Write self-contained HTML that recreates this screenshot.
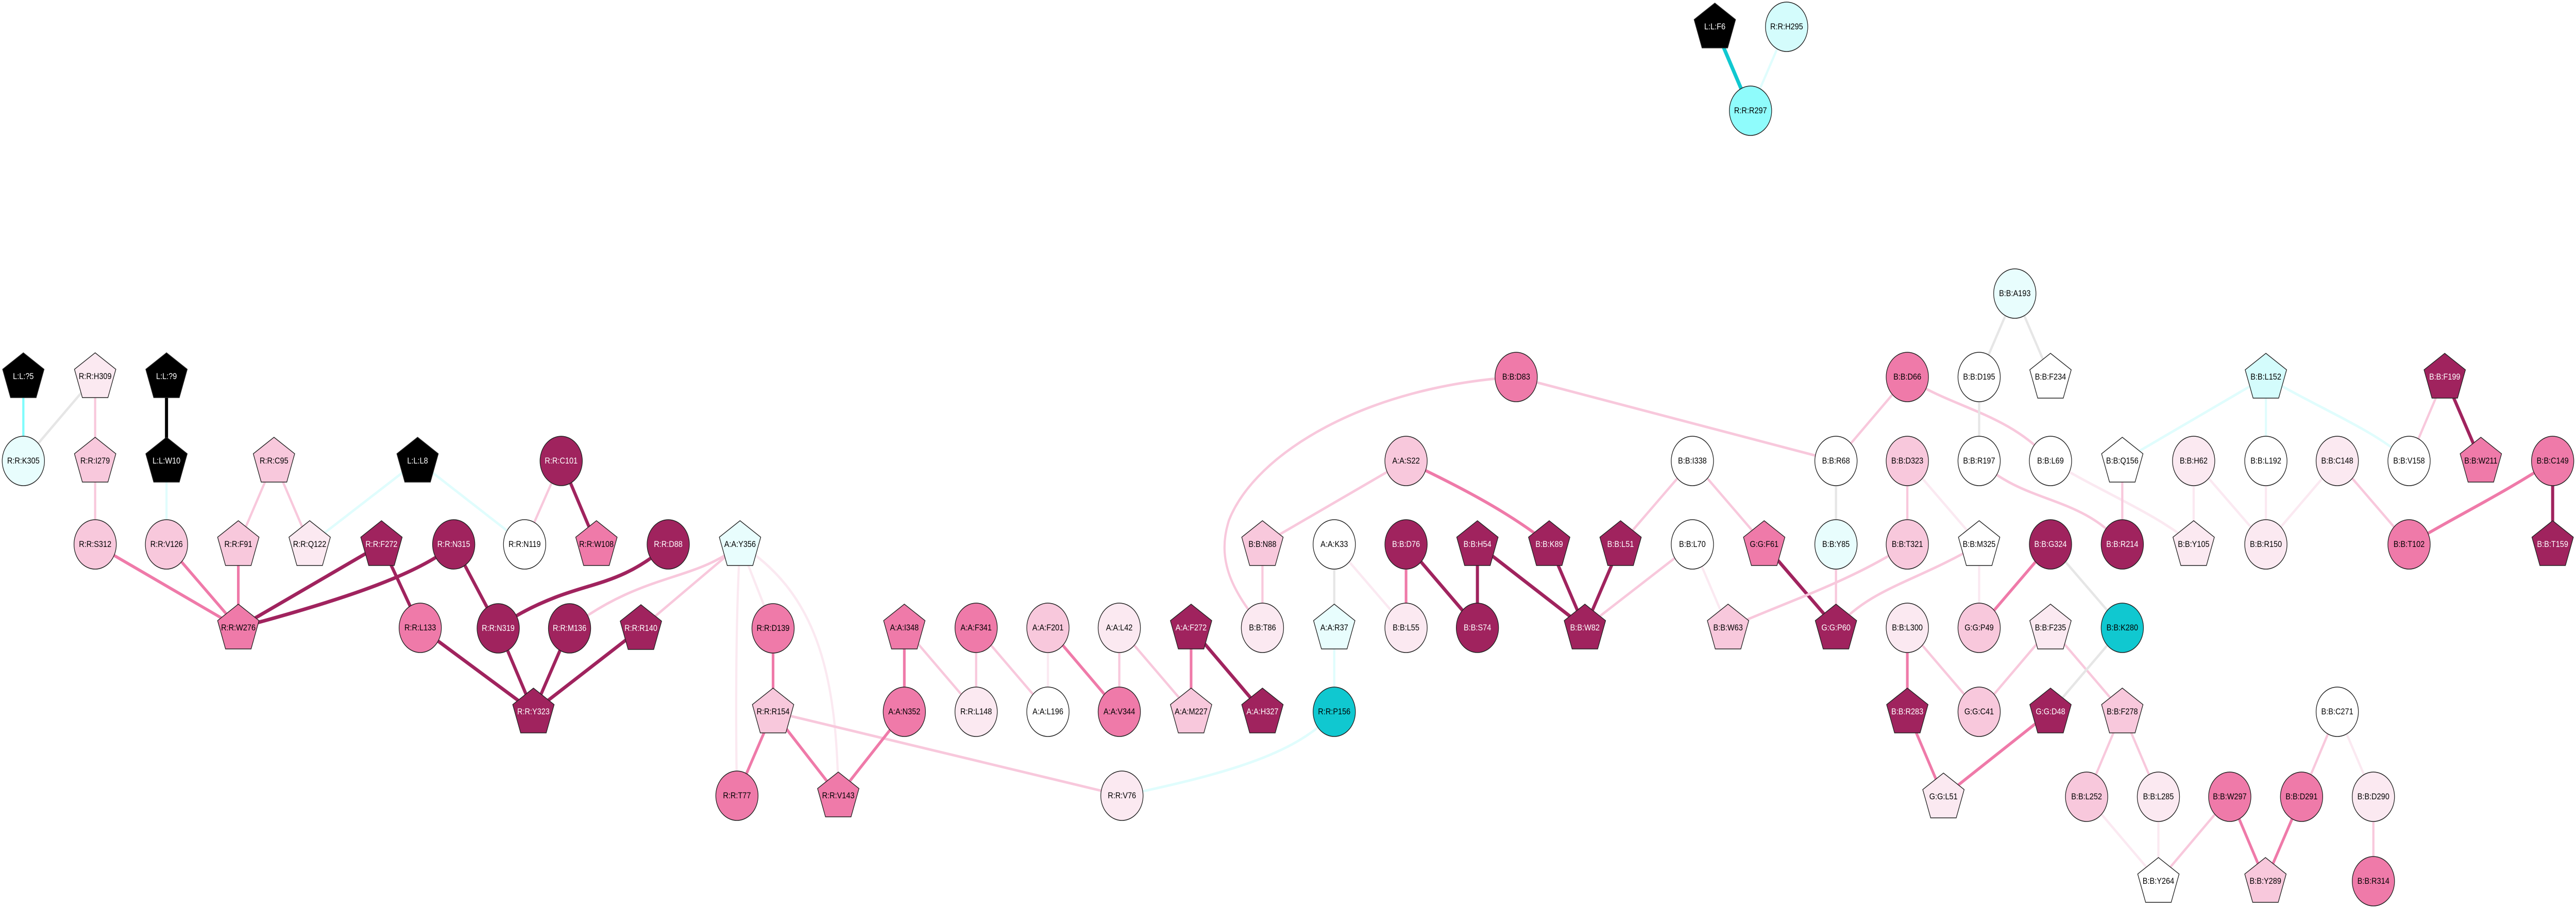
<!DOCTYPE html>
<html><head><meta charset="utf-8"><style>
html,body{margin:0;padding:0;background:#fff;width:100%;height:100%;overflow:hidden}
svg{display:block;width:100vw;height:100vh;position:absolute;left:0;top:0}
text{font-family:"Liberation Sans",Arial,sans-serif;font-size:17px;text-anchor:middle;dominant-baseline:central}
.c,.p{stroke:#222;stroke-width:1.5}
.e{fill:none;stroke-linecap:butt}
.dk{stroke:#a0235e;stroke-width:7}
.md{stroke:#ef7aa9;stroke-width:6}
.lp{stroke:#f8c8dc;stroke-width:5}
.vl{stroke:#fbe9f1;stroke-width:5}
.gr{stroke:#e6e6e6;stroke-width:5}
.cy{stroke:#e0fdfd;stroke-width:5}
</style></head><body>
<svg viewBox="0 0 5848 1763" preserveAspectRatio="none" xmlns="http://www.w3.org/2000/svg">
<defs><polygon id="pg" points="0,-46 47,-14 29,41 -29,41 -47,-14"/></defs>
<g class="e">
<line x1="3893" y1="52" x2="3974" y2="215" stroke="#10c8d0" stroke-width="8"/>
<line class="cy" x1="4056" y1="52" x2="3974" y2="215" stroke="#d4fcfc"/>
<line x1="53" y1="731" x2="53" y2="895" stroke="#7ffcfc" stroke-width="5"/>
<line class="gr" x1="216" y1="731" x2="53" y2="895"/>
<line class="lp" x1="216" y1="731" x2="216" y2="895"/>
<line x1="378" y1="731" x2="378" y2="895" stroke="#000" stroke-width="7"/>
<line class="lp" x1="216" y1="895" x2="216" y2="1057"/>
<line class="cy" x1="378" y1="895" x2="378" y2="1057"/>
<line class="lp" x1="622" y1="895" x2="541" y2="1057"/>
<line class="lp" x1="622" y1="895" x2="703" y2="1057"/>
<line class="cy" x1="948" y1="895" x2="703" y2="1057"/>
<line class="cy" x1="948" y1="895" x2="1191" y2="1057"/>
<line class="md" x1="216" y1="1057" x2="541" y2="1219"/>
<line class="md" x1="378" y1="1057" x2="541" y2="1219"/>
<line class="md" x1="541" y1="1057" x2="541" y2="1219"/>
<line class="dk" x1="866" y1="1057" x2="541" y2="1219"/>
<path class="dk" d="M1030,1057 C960,1110 800,1160 541,1219"/>
<line class="dk" x1="866" y1="1057" x2="954" y2="1219"/>
<line class="dk" x1="954" y1="1219" x2="1211" y2="1382"/>
<line class="lp" x1="1274" y1="895" x2="1191" y2="1057"/>
<line class="dk" x1="1274" y1="895" x2="1354" y2="1057"/>
<line class="dk" x1="1030" y1="1057" x2="1131" y2="1220"/>
<path class="dk" d="M1517,1057 C1420,1130 1350,1130 1260,1160 C1200,1180 1160,1200 1131,1220"/>
<path class="lp" d="M1680,1057 C1580,1130 1460,1110 1293,1220"/>
<line class="lp" x1="1680" y1="1057" x2="1455" y2="1220"/>
<path class="vl" d="M1680,1057 C1670,1200 1670,1400 1673,1545"/>
<line class="vl" x1="1680" y1="1057" x2="1755" y2="1220"/>
<path class="vl" d="M1680,1057 C1850,1150 1900,1300 1903,1545"/>
<line class="dk" x1="1131" y1="1220" x2="1211" y2="1382"/>
<line class="dk" x1="1293" y1="1220" x2="1211" y2="1382"/>
<line class="dk" x1="1455" y1="1220" x2="1211" y2="1382"/>
<line class="md" x1="1755" y1="1220" x2="1755" y2="1382"/>
<line class="md" x1="1755" y1="1382" x2="1673" y2="1545"/>
<line class="md" x1="1755" y1="1382" x2="1903" y2="1545"/>
<line class="lp" x1="1755" y1="1382" x2="2547" y2="1545"/>
<line class="md" x1="1903" y1="1545" x2="2053" y2="1382"/>
<line class="md" x1="2053" y1="1219" x2="2053" y2="1382"/>
<line class="lp" x1="2053" y1="1219" x2="2216" y2="1382"/>
<line class="lp" x1="2216" y1="1219" x2="2216" y2="1382"/>
<line class="lp" x1="2216" y1="1219" x2="2379" y2="1382"/>
<line class="vl" x1="2379" y1="1219" x2="2379" y2="1382"/>
<line class="md" x1="2379" y1="1219" x2="2541" y2="1382"/>
<line class="lp" x1="2541" y1="1219" x2="2541" y2="1382"/>
<line class="lp" x1="2541" y1="1219" x2="2704" y2="1382"/>
<line class="md" x1="2704" y1="1219" x2="2704" y2="1382"/>
<line class="dk" x1="2704" y1="1219" x2="2866" y2="1382"/>
<line class="lp" x1="2866" y1="1057" x2="2866" y2="1219"/>
<path class="lp" d="M3442,732 C3100,750 2850,880 2790,1010 C2760,1090 2800,1150 2866,1219"/>
<line class="lp" x1="3442" y1="732" x2="4168" y2="895"/>
<line class="lp" x1="3192" y1="895" x2="2866" y2="1057"/>
<path class="md" d="M3192,895 C3300,940 3420,990 3517,1057"/>
<path class="cy" d="M2547,1545 C2800,1500 2950,1460 3029,1382"/>
<line class="gr" x1="3029" y1="1057" x2="3029" y2="1219"/>
<line class="vl" x1="3029" y1="1057" x2="3192" y2="1219"/>
<line class="cy" x1="3029" y1="1219" x2="3029" y2="1382" stroke="#d4fcfc"/>
<line class="md" x1="3192" y1="1057" x2="3192" y2="1219"/>
<line class="dk" x1="3192" y1="1057" x2="3354" y2="1219"/>
<line class="dk" x1="3354" y1="1057" x2="3354" y2="1219"/>
<line class="dk" x1="3354" y1="1057" x2="3598" y2="1219"/>
<line class="dk" x1="3517" y1="1057" x2="3598" y2="1219"/>
<line class="dk" x1="3679" y1="1057" x2="3598" y2="1219"/>
<line class="lp" x1="3842" y1="1057" x2="3598" y2="1219"/>
<line class="lp" x1="3842" y1="895" x2="3679" y2="1057"/>
<line class="lp" x1="3842" y1="895" x2="4005" y2="1057"/>
<line class="vl" x1="3842" y1="1057" x2="3923" y2="1219"/>
<line class="gr" x1="4574" y1="570" x2="4493" y2="732"/>
<line class="gr" x1="4574" y1="570" x2="4655" y2="732"/>
<line class="lp" x1="4330" y1="732" x2="4168" y2="895"/>
<path class="lp" d="M4330,732 C4420,790 4560,800 4655,895"/>
<line class="gr" x1="4493" y1="732" x2="4493" y2="895"/>
<line class="gr" x1="4168" y1="895" x2="4168" y2="1057"/>
<line class="lp" x1="4330" y1="895" x2="4330" y2="1057"/>
<line class="vl" x1="4330" y1="895" x2="4493" y2="1057"/>
<path class="lp" d="M4493,895 C4600,980 4720,960 4818,1057"/>
<path class="vl" d="M4655,895 C4780,960 4880,990 4980,1057"/>
<line class="lp" x1="4818" y1="895" x2="4818" y2="1057"/>
<line class="vl" x1="4980" y1="895" x2="4980" y2="1057"/>
<line class="dk" x1="4005" y1="1057" x2="4168" y2="1219"/>
<line class="lp" x1="4168" y1="1057" x2="4168" y2="1219"/>
<path class="lp" d="M4330,1057 C4200,1130 4050,1170 3923,1219"/>
<path class="lp" d="M4493,1057 C4350,1130 4250,1140 4168,1219"/>
<line class="vl" x1="4493" y1="1057" x2="4493" y2="1219"/>
<line class="md" x1="4655" y1="1057" x2="4493" y2="1219"/>
<line class="gr" x1="4655" y1="1057" x2="4818" y2="1219"/>
<line class="md" x1="4330" y1="1219" x2="4330" y2="1382"/>
<line class="lp" x1="4330" y1="1219" x2="4493" y2="1382"/>
<line class="lp" x1="4655" y1="1219" x2="4493" y2="1382"/>
<line class="lp" x1="4655" y1="1219" x2="4818" y2="1382"/>
<line class="gr" x1="4818" y1="1219" x2="4655" y2="1382"/>
<line class="md" x1="4330" y1="1382" x2="4412" y2="1547"/>
<line class="md" x1="4655" y1="1382" x2="4412" y2="1547" stroke-width="7"/>
<line class="lp" x1="4818" y1="1382" x2="4737" y2="1547"/>
<line class="lp" x1="4818" y1="1382" x2="4900" y2="1547"/>
<line class="lp" x1="5306" y1="1382" x2="5225" y2="1547"/>
<line class="vl" x1="5306" y1="1382" x2="5388" y2="1547"/>
<line class="vl" x1="4737" y1="1547" x2="4900" y2="1711"/>
<line class="vl" x1="4900" y1="1547" x2="4900" y2="1711"/>
<line class="lp" x1="5062" y1="1547" x2="4900" y2="1711"/>
<line class="md" x1="5062" y1="1547" x2="5143" y2="1711"/>
<line class="md" x1="5225" y1="1547" x2="5143" y2="1711"/>
<line class="lp" x1="5388" y1="1547" x2="5388" y2="1711"/>
<line class="cy" x1="5144" y1="732" x2="4818" y2="895"/>
<line class="cy" x1="5144" y1="732" x2="5144" y2="895" stroke="#d4fcfc"/>
<path class="cy" d="M5144,732 C5280,800 5380,830 5469,895"/>
<line class="lp" x1="5550" y1="732" x2="5469" y2="895"/>
<line class="dk" x1="5550" y1="732" x2="5632" y2="895"/>
<line class="vl" x1="4980" y1="895" x2="5144" y2="1057"/>
<line class="vl" x1="5144" y1="895" x2="5144" y2="1057"/>
<line class="vl" x1="5306" y1="895" x2="5144" y2="1057"/>
<line class="lp" x1="5306" y1="895" x2="5469" y2="1057"/>
<path class="md" d="M5795,895 C5680,960 5580,1000 5469,1057"/>
<line class="dk" x1="5795" y1="895" x2="5795" y2="1057"/>
</g>
<g>
<g transform="translate(3893,52)"><use href="#pg" fill="#000" class="p"/><text fill="#fff">L:L:F6</text></g>
<g transform="translate(4056,52)"><circle r="48" fill="#d4fcfc" class="c"/><text>R:R:H295</text></g>
<g transform="translate(3974,215)"><circle r="48" fill="#8ffcfc" class="c"/><text>R:R:R297</text></g>
<g transform="translate(53,731)"><use href="#pg" fill="#000" class="p"/><text fill="#fff">L:L:?5</text></g>
<g transform="translate(216,731)"><use href="#pg" fill="#fbe9f1" class="p"/><text>R:R:H309</text></g>
<g transform="translate(378,731)"><use href="#pg" fill="#000" class="p"/><text fill="#fff">L:L:?9</text></g>
<g transform="translate(53,895)"><circle r="48" fill="#e8fdfd" class="c"/><text>R:R:K305</text></g>
<g transform="translate(216,895)"><use href="#pg" fill="#f8c8dc" class="p"/><text>R:R:I279</text></g>
<g transform="translate(378,895)"><use href="#pg" fill="#000" class="p"/><text fill="#fff">L:L:W10</text></g>
<g transform="translate(622,895)"><use href="#pg" fill="#f8c8dc" class="p"/><text>R:R:C95</text></g>
<g transform="translate(948,895)"><use href="#pg" fill="#000" class="p"/><text fill="#fff">L:L:L8</text></g>
<g transform="translate(1274,895)"><circle r="48" fill="#a0235e" class="c"/><text fill="#fff">R:R:C101</text></g>
<g transform="translate(216,1057)"><circle r="48" fill="#f8c8dc" class="c"/><text>R:R:S312</text></g>
<g transform="translate(378,1057)"><circle r="48" fill="#f8c8dc" class="c"/><text>R:R:V126</text></g>
<g transform="translate(541,1057)"><use href="#pg" fill="#f8c8dc" class="p"/><text>R:R:F91</text></g>
<g transform="translate(703,1057)"><use href="#pg" fill="#fbe9f1" class="p"/><text>R:R:Q122</text></g>
<g transform="translate(866,1057)"><use href="#pg" fill="#a0235e" class="p"/><text fill="#fff">R:R:F272</text></g>
<g transform="translate(1030,1057)"><circle r="48" fill="#a0235e" class="c"/><text fill="#fff">R:R:N315</text></g>
<g transform="translate(1191,1057)"><circle r="48" fill="#fff" class="c"/><text>R:R:N119</text></g>
<g transform="translate(1354,1057)"><use href="#pg" fill="#ef7aa9" class="p"/><text>R:R:W108</text></g>
<g transform="translate(1517,1057)"><circle r="48" fill="#a0235e" class="c"/><text fill="#fff">R:R:D88</text></g>
<g transform="translate(1680,1057)"><use href="#pg" fill="#e8fdfd" class="p"/><text>A:A:Y356</text></g>
<g transform="translate(541,1219)"><use href="#pg" fill="#ef7aa9" class="p"/><text>R:R:W276</text></g>
<g transform="translate(954,1219)"><circle r="48" fill="#ef7aa9" class="c"/><text>R:R:L133</text></g>
<g transform="translate(1131,1220)"><circle r="48" fill="#a0235e" class="c"/><text fill="#fff">R:R:N319</text></g>
<g transform="translate(1293,1220)"><circle r="48" fill="#a0235e" class="c"/><text fill="#fff">R:R:M136</text></g>
<g transform="translate(1455,1220)"><use href="#pg" fill="#a0235e" class="p"/><text fill="#fff">R:R:R140</text></g>
<g transform="translate(1755,1220)"><circle r="48" fill="#ef7aa9" class="c"/><text>R:R:D139</text></g>
<g transform="translate(1211,1382)"><use href="#pg" fill="#a0235e" class="p"/><text fill="#fff">R:R:Y323</text></g>
<g transform="translate(1755,1382)"><use href="#pg" fill="#f8c8dc" class="p"/><text>R:R:R154</text></g>
<g transform="translate(1673,1545)"><circle r="48" fill="#ef7aa9" class="c"/><text>R:R:T77</text></g>
<g transform="translate(1903,1545)"><use href="#pg" fill="#ef7aa9" class="p"/><text>R:R:V143</text></g>
<g transform="translate(2053,1219)"><use href="#pg" fill="#ef7aa9" class="p"/><text>A:A:I348</text></g>
<g transform="translate(2216,1219)"><circle r="48" fill="#ef7aa9" class="c"/><text>A:A:F341</text></g>
<g transform="translate(2379,1219)"><circle r="48" fill="#f8c8dc" class="c"/><text>A:A:F201</text></g>
<g transform="translate(2541,1219)"><circle r="48" fill="#fbe9f1" class="c"/><text>A:A:L42</text></g>
<g transform="translate(2704,1219)"><use href="#pg" fill="#a0235e" class="p"/><text fill="#fff">A:A:F272</text></g>
<g transform="translate(2866,1219)"><circle r="48" fill="#fbe9f1" class="c"/><text>B:B:T86</text></g>
<g transform="translate(2866,1057)"><use href="#pg" fill="#f8c8dc" class="p"/><text>B:B:N88</text></g>
<g transform="translate(2053,1382)"><circle r="48" fill="#ef7aa9" class="c"/><text>A:A:N352</text></g>
<g transform="translate(2216,1382)"><circle r="48" fill="#fbe9f1" class="c"/><text>R:R:L148</text></g>
<g transform="translate(2379,1382)"><circle r="48" fill="#fff" class="c"/><text>A:A:L196</text></g>
<g transform="translate(2541,1382)"><circle r="48" fill="#ef7aa9" class="c"/><text>A:A:V344</text></g>
<g transform="translate(2704,1382)"><use href="#pg" fill="#f8c8dc" class="p"/><text>A:A:M227</text></g>
<g transform="translate(2866,1382)"><use href="#pg" fill="#a0235e" class="p"/><text fill="#fff">A:A:H327</text></g>
<g transform="translate(2547,1545)"><circle r="48" fill="#fbe9f1" class="c"/><text>R:R:V76</text></g>
<g transform="translate(3442,732)"><circle r="48" fill="#ef7aa9" class="c"/><text>B:B:D83</text></g>
<g transform="translate(3192,895)"><circle r="48" fill="#f8c8dc" class="c"/><text>A:A:S22</text></g>
<g transform="translate(3842,895)"><circle r="48" fill="#fff" class="c"/><text>B:B:I338</text></g>
<g transform="translate(3029,1057)"><circle r="48" fill="#fff" class="c"/><text>A:A:K33</text></g>
<g transform="translate(3192,1057)"><circle r="48" fill="#a0235e" class="c"/><text fill="#fff">B:B:D76</text></g>
<g transform="translate(3354,1057)"><use href="#pg" fill="#a0235e" class="p"/><text fill="#fff">B:B:H54</text></g>
<g transform="translate(3517,1057)"><use href="#pg" fill="#a0235e" class="p"/><text fill="#fff">B:B:K89</text></g>
<g transform="translate(3679,1057)"><use href="#pg" fill="#a0235e" class="p"/><text fill="#fff">B:B:L51</text></g>
<g transform="translate(3842,1057)"><circle r="48" fill="#fff" class="c"/><text>B:B:L70</text></g>
<g transform="translate(4005,1057)"><use href="#pg" fill="#ef7aa9" class="p"/><text>G:G:F61</text></g>
<g transform="translate(3029,1219)"><use href="#pg" fill="#e8fdfd" class="p"/><text>A:A:R37</text></g>
<g transform="translate(3192,1219)"><circle r="48" fill="#fbe9f1" class="c"/><text>B:B:L55</text></g>
<g transform="translate(3354,1219)"><circle r="48" fill="#a0235e" class="c"/><text fill="#fff">B:B:S74</text></g>
<g transform="translate(3598,1219)"><use href="#pg" fill="#a0235e" class="p"/><text fill="#fff">B:B:W82</text></g>
<g transform="translate(3923,1219)"><use href="#pg" fill="#f8c8dc" class="p"/><text>B:B:W63</text></g>
<g transform="translate(3029,1382)"><circle r="48" fill="#10c8d0" class="c"/><text>R:R:P156</text></g>
<g transform="translate(4574,570)"><circle r="48" fill="#e8fdfd" class="c"/><text>B:B:A193</text></g>
<g transform="translate(4330,732)"><circle r="48" fill="#ef7aa9" class="c"/><text>B:B:D66</text></g>
<g transform="translate(4493,732)"><circle r="48" fill="#fff" class="c"/><text>B:B:D195</text></g>
<g transform="translate(4655,732)"><use href="#pg" fill="#fff" class="p"/><text>B:B:F234</text></g>
<g transform="translate(4168,895)"><circle r="48" fill="#fff" class="c"/><text>B:B:R68</text></g>
<g transform="translate(4330,895)"><circle r="48" fill="#f8c8dc" class="c"/><text>B:B:D323</text></g>
<g transform="translate(4493,895)"><circle r="48" fill="#fff" class="c"/><text>B:B:R197</text></g>
<g transform="translate(4655,895)"><circle r="48" fill="#fff" class="c"/><text>B:B:L69</text></g>
<g transform="translate(4818,895)"><use href="#pg" fill="#fff" class="p"/><text>B:B:Q156</text></g>
<g transform="translate(4980,895)"><circle r="48" fill="#fbe9f1" class="c"/><text>B:B:H62</text></g>
<g transform="translate(4168,1057)"><circle r="48" fill="#e8fdfd" class="c"/><text>B:B:Y85</text></g>
<g transform="translate(4330,1057)"><circle r="48" fill="#f8c8dc" class="c"/><text>B:B:T321</text></g>
<g transform="translate(4493,1057)"><use href="#pg" fill="#fff" class="p"/><text>B:B:M325</text></g>
<g transform="translate(4655,1057)"><circle r="48" fill="#a0235e" class="c"/><text fill="#fff">B:B:G324</text></g>
<g transform="translate(4818,1057)"><circle r="48" fill="#a0235e" class="c"/><text fill="#fff">B:B:R214</text></g>
<g transform="translate(4980,1057)"><use href="#pg" fill="#fbe9f1" class="p"/><text>B:B:Y105</text></g>
<g transform="translate(4168,1219)"><use href="#pg" fill="#a0235e" class="p"/><text fill="#fff">G:G:P60</text></g>
<g transform="translate(4330,1219)"><circle r="48" fill="#fbe9f1" class="c"/><text>B:B:L300</text></g>
<g transform="translate(4493,1219)"><circle r="48" fill="#f8c8dc" class="c"/><text>G:G:P49</text></g>
<g transform="translate(4655,1219)"><use href="#pg" fill="#fbe9f1" class="p"/><text>B:B:F235</text></g>
<g transform="translate(4818,1219)"><circle r="48" fill="#10c8d0" class="c"/><text>B:B:K280</text></g>
<g transform="translate(4330,1382)"><use href="#pg" fill="#a0235e" class="p"/><text fill="#fff">B:B:R283</text></g>
<g transform="translate(4493,1382)"><circle r="48" fill="#f8c8dc" class="c"/><text>G:G:C41</text></g>
<g transform="translate(4655,1382)"><use href="#pg" fill="#a0235e" class="p"/><text fill="#fff">G:G:D48</text></g>
<g transform="translate(4818,1382)"><use href="#pg" fill="#f8c8dc" class="p"/><text>B:B:F278</text></g>
<g transform="translate(5306,1382)"><circle r="48" fill="#fff" class="c"/><text>B:B:C271</text></g>
<g transform="translate(4412,1547)"><use href="#pg" fill="#fbe9f1" class="p"/><text>G:G:L51</text></g>
<g transform="translate(4737,1547)"><circle r="48" fill="#f8c8dc" class="c"/><text>B:B:L252</text></g>
<g transform="translate(4900,1547)"><circle r="48" fill="#fbe9f1" class="c"/><text>B:B:L285</text></g>
<g transform="translate(5062,1547)"><circle r="48" fill="#ef7aa9" class="c"/><text>B:B:W297</text></g>
<g transform="translate(5225,1547)"><circle r="48" fill="#ef7aa9" class="c"/><text>B:B:D291</text></g>
<g transform="translate(5388,1547)"><circle r="48" fill="#fbe9f1" class="c"/><text>B:B:D290</text></g>
<g transform="translate(4900,1711)"><use href="#pg" fill="#fff" class="p"/><text>B:B:Y264</text></g>
<g transform="translate(5143,1711)"><use href="#pg" fill="#f8c8dc" class="p"/><text>B:B:Y289</text></g>
<g transform="translate(5388,1711)"><circle r="48" fill="#ef7aa9" class="c"/><text>B:B:R314</text></g>
<g transform="translate(5144,732)"><use href="#pg" fill="#d4fcfc" class="p"/><text>B:B:L152</text></g>
<g transform="translate(5550,732)"><use href="#pg" fill="#a0235e" class="p"/><text fill="#fff">B:B:F199</text></g>
<g transform="translate(5144,895)"><circle r="48" fill="#fff" class="c"/><text>B:B:L192</text></g>
<g transform="translate(5306,895)"><circle r="48" fill="#fbe9f1" class="c"/><text>B:B:C148</text></g>
<g transform="translate(5469,895)"><circle r="48" fill="#fff" class="c"/><text>B:B:V158</text></g>
<g transform="translate(5632,895)"><use href="#pg" fill="#ef7aa9" class="p"/><text>B:B:W211</text></g>
<g transform="translate(5795,895)"><circle r="48" fill="#ef7aa9" class="c"/><text>B:B:C149</text></g>
<g transform="translate(5144,1057)"><circle r="48" fill="#fbe9f1" class="c"/><text>B:B:R150</text></g>
<g transform="translate(5469,1057)"><circle r="48" fill="#ef7aa9" class="c"/><text>B:B:T102</text></g>
<g transform="translate(5795,1057)"><use href="#pg" fill="#a0235e" class="p"/><text fill="#fff">B:B:T159</text></g>
</g>
</svg>
</body></html>
